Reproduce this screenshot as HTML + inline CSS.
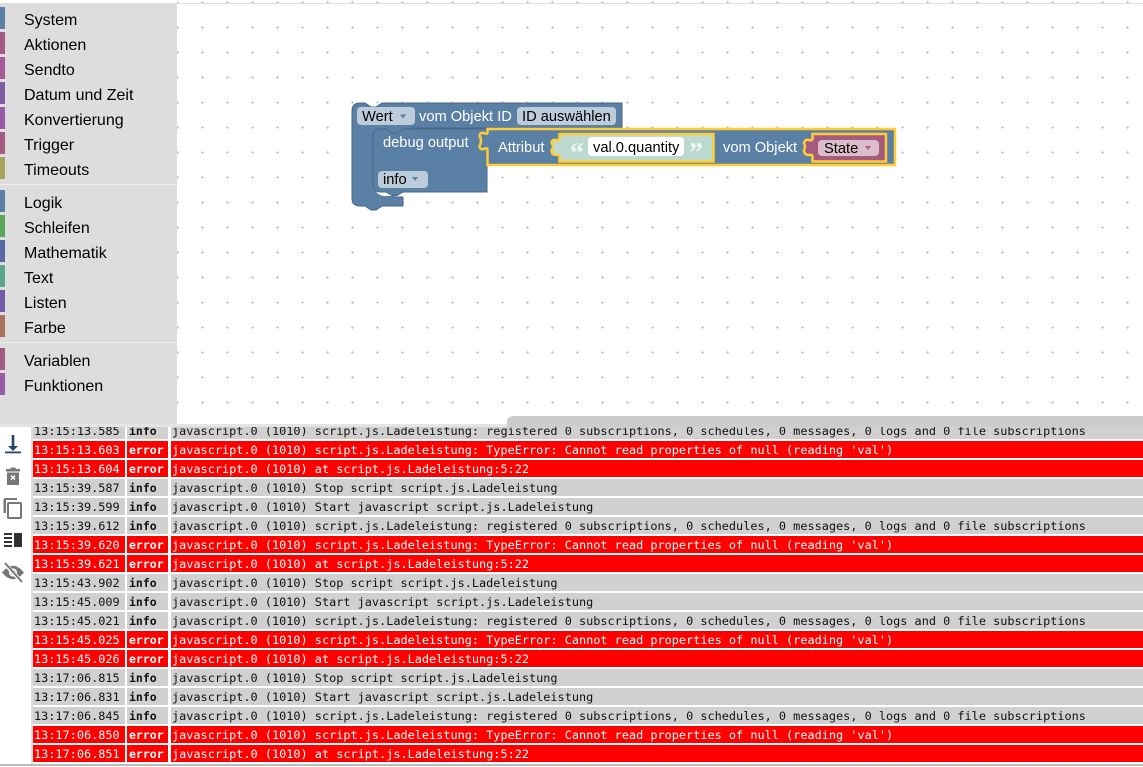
<!DOCTYPE html>
<html>
<head>
<meta charset="utf-8">
<style>
html,body{margin:0;padding:0;background:#fff;}
#p{position:relative;width:1143px;height:767px;overflow:hidden;background:#fff;font-family:"Liberation Sans",sans-serif;}
.abs{position:absolute;}
.sw{position:absolute;left:0;width:5px;height:22px;}
.tl{position:absolute;left:24px;font-size:16px;line-height:22px;color:#000;white-space:nowrap;margin-top:2px;}
.sep{position:absolute;left:0;width:177px;height:1px;background:#eee;}
#log{position:absolute;left:33px;top:427px;width:1110px;height:337px;overflow:hidden;font-family:"DejaVu Sans Mono",monospace;font-size:11.87px;}
.r{position:absolute;left:0;width:1110px;height:17px;line-height:19px;color:#111;white-space:pre;}
.r div{position:absolute;top:0;height:17px;background:#d0d0d0;}
.r .t{left:0;width:92px;padding-left:1px;box-sizing:border-box;}
.r .l{left:94px;width:41px;padding-left:2px;box-sizing:border-box;font-weight:bold;font-size:11.5px;}
.r .m{left:138px;width:972px;padding-left:1px;box-sizing:border-box;}
.e{color:#fff;}
.e div{background:#f00;}
svg text{font-family:"Liberation Sans",sans-serif;font-size:14.67px;}
</style>
</head>
<body>
<div id="p">
<svg class="abs" style="left:0;top:0" width="1143" height="430" viewBox="0 0 1143 430">
<defs>
<pattern id="g" x="177" y="2" width="25" height="25" patternUnits="userSpaceOnUse">
<rect x="-1" y="0" width="3" height="1" fill="#ccc"/><rect x="0" y="-1" width="1" height="3" fill="#ccc"/>
<rect x="24" y="0" width="1" height="1" fill="#ccc"/>
<rect x="0" y="24" width="1" height="1" fill="#ccc"/>
</pattern>
</defs>
<rect x="177" y="0" width="966" height="424" fill="url(#g)"/>
<rect x="0" y="3" width="1143" height="1" fill="#ddd"/>
<path d="M352 111Q352 103 360 103H365L371 107H376L382 103H622V128H410V134H394V197H403V206H382L376 210H371L365 206H360Q352 206 352 198Z" fill="#5b80a5" stroke="#496684" stroke-width="1"/>
<path d="M373 182Q374 194 383 196H403V192H381Z" fill="#fff"/>
<path d="M373 137Q373 129 381 129H386L392 133H397L403 129H487V192H403L397 195.500H392L386 192H381Q373 192 373 184Z" fill="#5b80a5" stroke="#496684" stroke-width="1"/>
<path d="M487.500 129H895V165H487.500V150Q487.500 147 484 149Q479.500 150 479.500 146Q481 143 481 141Q481 138 479.500 136Q480 132 484 133Q487.500 135 487.500 132Z" fill="#5b80a5" stroke="#fc3" stroke-width="2.500"/>
<path d="M559.500 134H713.500V161.500H559.500V157Q559.500 154 556 155Q551.500 155 551.500 150Q553 148 553 147Q553 145 551.500 143Q552 139 556 140Q559.500 141 559.500 138Z" fill="#bcdad0" stroke="#fc3" stroke-width="2.500"/>
<path d="M812.500 134H886V161.500H812.500V157Q812.500 154 809 155Q804 155 804 150Q805 148 805 147Q805 145 804 143Q805 139 809 140Q812.500 141 812.500 138Z" fill="#a55b80" stroke="#fc3" stroke-width="2.500"/>
<rect x="357" y="107" width="58" height="18" rx="4" fill="#bdccdb"/>
<rect x="517" y="107" width="99" height="18" rx="4" fill="#bdccdb"/>
<rect x="378" y="171" width="50" height="17" rx="4" fill="#bdccdb"/>
<rect x="588" y="137" width="96" height="19" rx="4" fill="#fff"/>
<rect x="818" y="140" width="61" height="16" rx="4" fill="#dbbdcc"/>
<text x="362" y="121" fill="#000">Wert</text>
<path d="M400 114.500h6l-3 4z" fill="#5b80a5"/>
<text x="419" y="121" fill="#fff">vom Objekt ID</text>
<text x="522" y="121" fill="#000">ID auswählen</text>
<text x="383" y="147" fill="#fff">debug output</text>
<text x="383" y="184" fill="#000">info</text>
<path d="M412 177h6l-3 4z" fill="#5b80a5"/>
<text x="498" y="152" fill="#fff">Attribut</text>
<text x="570" y="162" fill="#eef6f3" style="font-family:'Liberation Serif',serif;font-size:28px;font-weight:bold">“</text>
<text x="593" y="152" fill="#000">val.0.quantity</text>
<text x="689" y="162" fill="#eef6f3" style="font-family:'Liberation Serif',serif;font-size:28px;font-weight:bold">”</text>
<text x="723" y="152" fill="#fff">vom Objekt</text>
<text x="824" y="153" fill="#000">State</text>
<path d="M865 146h6l-3 4z" fill="#a55b80"/>
</svg>

<div class="abs" style="left:0;top:4px;width:177px;height:420px;background:#ddd"></div>
<div class="abs" style="left:0;top:424px;width:1143px;height:3px;background:#e4e4e4"></div>
<div class="abs" style="left:507px;top:416px;width:636px;height:11px;background:#ccc;border-top-left-radius:6px"></div>

<div class="sw" style="top:7px;background:#5b80a5"></div><div class="tl" style="top:8px">System</div>
<div class="sw" style="top:32px;background:#a55b80"></div><div class="tl" style="top:33px">Aktionen</div>
<div class="sw" style="top:57px;background:#a55b99"></div><div class="tl" style="top:58px">Sendto</div>
<div class="sw" style="top:82px;background:#805ba5"></div><div class="tl" style="top:83px">Datum und Zeit</div>
<div class="sw" style="top:107px;background:#995ba5"></div><div class="tl" style="top:108px">Konvertierung</div>
<div class="sw" style="top:132px;background:#a55b80"></div><div class="tl" style="top:133px">Trigger</div>
<div class="sw" style="top:157px;background:#a5a55b"></div><div class="tl" style="top:158px">Timeouts</div>
<div class="sep" style="top:184px"></div>
<div class="sw" style="top:190px;background:#5b80a5"></div><div class="tl" style="top:191px">Logik</div>
<div class="sw" style="top:215px;background:#5ba55b"></div><div class="tl" style="top:216px">Schleifen</div>
<div class="sw" style="top:240px;background:#5b67a5"></div><div class="tl" style="top:241px">Mathematik</div>
<div class="sw" style="top:265px;background:#5ba58c"></div><div class="tl" style="top:266px">Text</div>
<div class="sw" style="top:290px;background:#745ba5"></div><div class="tl" style="top:291px">Listen</div>
<div class="sw" style="top:315px;background:#a5745b"></div><div class="tl" style="top:316px">Farbe</div>
<div class="sep" style="top:342px"></div>
<div class="sw" style="top:348px;background:#a55b80"></div><div class="tl" style="top:349px">Variablen</div>
<div class="sw" style="top:373px;background:#995ba5"></div><div class="tl" style="top:374px">Funktionen</div>

<div class="abs" style="left:31px;top:427px;width:2px;height:337px;background:#ddd"></div>

<svg class="abs" style="left:0;top:427px" width="31" height="165" viewBox="0 427 31 165">
<path d="M11.700 435h2.600v11h3.700l-5 5-5-5h3.700z" fill="#22466e"/>
<rect x="5" y="451.500" width="16" height="1.800" fill="#22466e"/>
<path d="M6 469h4l1-1.500h4l1 1.500h4v2.500H6z M7 472.500h12v12.500H7z" fill="#777"/>
<path d="M10.500 476l1-1 1.500 1.500 1.500-1.500 1 1-1.500 1.500 1.500 1.500-1 1-1.500-1.500-1.500 1.500-1-1 1.500-1.500z" fill="#fff"/>
<path d="M6 498h11v2H6v13H3.500V500Q3.500 498 6 498z" fill="#777"/>
<path d="M9 502h11q2 0 2 2v13q0 2-2 2H9q-2 0-2-2v-13q0-2 2-2zm0 2v13h11v-13z" fill="#777"/>
<rect x="4" y="533" width="8" height="2" fill="#333"/>
<rect x="4" y="537" width="8" height="2" fill="#333"/>
<rect x="4" y="541" width="8" height="2" fill="#333"/>
<rect x="4" y="545" width="8" height="2" fill="#333"/>
<rect x="14" y="533" width="8" height="14" fill="#333"/>
<path d="M2 572.500Q13 559 24 572.500Q13 586 2 572.500z" fill="#777"/>
<circle cx="13" cy="572.500" r="4" fill="#fff"/>
<circle cx="13" cy="572.500" r="2.500" fill="#777"/>
<path d="M5 564l16 17" stroke="#fff" stroke-width="4"/>
<path d="M5 563l17 19" stroke="#777" stroke-width="2"/>
</svg>

<div id="log">
<div class="r" style="top:-5px"><div class="t">13:15:13.585</div><div class="l">info</div><div class="m">javascript.0 (1010) script.js.Ladeleistung: registered 0 subscriptions, 0 schedules, 0 messages, 0 logs and 0 file subscriptions</div></div>
<div class="r e" style="top:14px"><div class="t">13:15:13.603</div><div class="l">error</div><div class="m">javascript.0 (1010) script.js.Ladeleistung: TypeError: Cannot read properties of null (reading 'val')</div></div>
<div class="r e" style="top:33px"><div class="t">13:15:13.604</div><div class="l">error</div><div class="m">javascript.0 (1010) at script.js.Ladeleistung:5:22</div></div>
<div class="r" style="top:52px"><div class="t">13:15:39.587</div><div class="l">info</div><div class="m">javascript.0 (1010) Stop script script.js.Ladeleistung</div></div>
<div class="r" style="top:71px"><div class="t">13:15:39.599</div><div class="l">info</div><div class="m">javascript.0 (1010) Start javascript script.js.Ladeleistung</div></div>
<div class="r" style="top:90px"><div class="t">13:15:39.612</div><div class="l">info</div><div class="m">javascript.0 (1010) script.js.Ladeleistung: registered 0 subscriptions, 0 schedules, 0 messages, 0 logs and 0 file subscriptions</div></div>
<div class="r e" style="top:109px"><div class="t">13:15:39.620</div><div class="l">error</div><div class="m">javascript.0 (1010) script.js.Ladeleistung: TypeError: Cannot read properties of null (reading 'val')</div></div>
<div class="r e" style="top:128px"><div class="t">13:15:39.621</div><div class="l">error</div><div class="m">javascript.0 (1010) at script.js.Ladeleistung:5:22</div></div>
<div class="r" style="top:147px"><div class="t">13:15:43.902</div><div class="l">info</div><div class="m">javascript.0 (1010) Stop script script.js.Ladeleistung</div></div>
<div class="r" style="top:166px"><div class="t">13:15:45.009</div><div class="l">info</div><div class="m">javascript.0 (1010) Start javascript script.js.Ladeleistung</div></div>
<div class="r" style="top:185px"><div class="t">13:15:45.021</div><div class="l">info</div><div class="m">javascript.0 (1010) script.js.Ladeleistung: registered 0 subscriptions, 0 schedules, 0 messages, 0 logs and 0 file subscriptions</div></div>
<div class="r e" style="top:204px"><div class="t">13:15:45.025</div><div class="l">error</div><div class="m">javascript.0 (1010) script.js.Ladeleistung: TypeError: Cannot read properties of null (reading 'val')</div></div>
<div class="r e" style="top:223px"><div class="t">13:15:45.026</div><div class="l">error</div><div class="m">javascript.0 (1010) at script.js.Ladeleistung:5:22</div></div>
<div class="r" style="top:242px"><div class="t">13:17:06.815</div><div class="l">info</div><div class="m">javascript.0 (1010) Stop script script.js.Ladeleistung</div></div>
<div class="r" style="top:261px"><div class="t">13:17:06.831</div><div class="l">info</div><div class="m">javascript.0 (1010) Start javascript script.js.Ladeleistung</div></div>
<div class="r" style="top:280px"><div class="t">13:17:06.845</div><div class="l">info</div><div class="m">javascript.0 (1010) script.js.Ladeleistung: registered 0 subscriptions, 0 schedules, 0 messages, 0 logs and 0 file subscriptions</div></div>
<div class="r e" style="top:299px"><div class="t">13:17:06.850</div><div class="l">error</div><div class="m">javascript.0 (1010) script.js.Ladeleistung: TypeError: Cannot read properties of null (reading 'val')</div></div>
<div class="r e" style="top:318px"><div class="t">13:17:06.851</div><div class="l">error</div><div class="m">javascript.0 (1010) at script.js.Ladeleistung:5:22</div></div>
</div>
<div class="abs" style="left:0;top:764px;width:1143px;height:2px;background:#bbb"></div>
</div>
</body>
</html>
